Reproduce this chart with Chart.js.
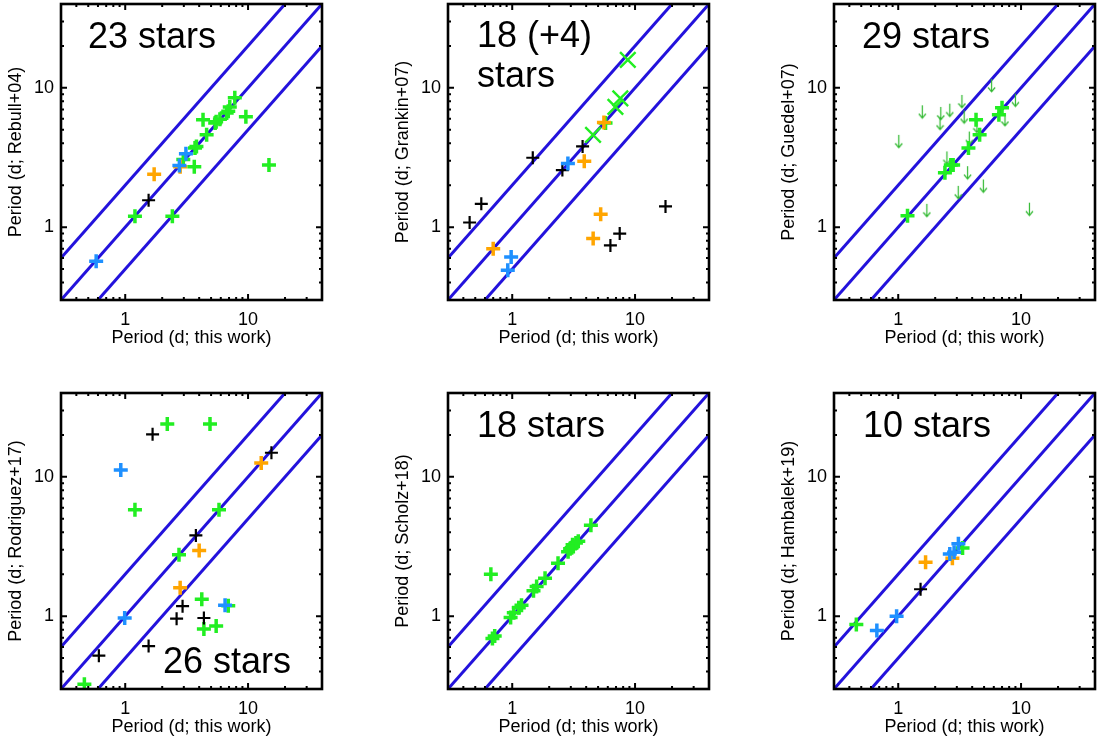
<!DOCTYPE html>
<html>
<head>
<meta charset="utf-8">
<script src="https://cdn.jsdelivr.net/npm/chart.js@4/dist/chart.umd.min.js"></script>
<style>
html,body{margin:0;padding:0;background:#fff;width:1097px;height:745px;overflow:hidden;}
canvas{position:absolute;}
</style>
</head>
<body>
<canvas id="c1" width="325" height="350" style="left:0px;top:0px"></canvas>
<canvas id="c2" width="325" height="350" style="left:387px;top:0px"></canvas>
<canvas id="c3" width="325" height="350" style="left:773px;top:0px"></canvas>
<canvas id="c4" width="325" height="350" style="left:0px;top:389px"></canvas>
<canvas id="c5" width="325" height="350" style="left:387px;top:389px"></canvas>
<canvas id="c6" width="325" height="350" style="left:773px;top:389px"></canvas>
<script>
// ---------- axes ----------
const axisRange = [0.3, 40];
const labelTicks = [1, 10];
const minorTicks = [0.4, 0.5, 0.6, 0.7, 0.8, 0.9, 2, 3, 4, 5, 6, 7, 8, 9, 20, 30];
const ratioLines = [0.5, 1, 2];
const xTitle = 'Period (d; this work)';

// ---------- data: [period this work, period literature] ----------
// Rebull+04
const rebull_green = [[1.2,1.2],[2.42,1.2],[2.97,3.06],[3.65,2.72],[3.7,3.7],[3.8,3.8],[4.3,5.9],[4.6,4.6],[5.4,5.6],[5.5,5.7],[5.9,5.95],[6.7,6.6],[6.9,6.8],[7.1,7.3],[7.8,8.5],[9.6,6.2],[14.8,2.8]];
const rebull_blue = [[0.58,0.57],[2.76,2.77],[3.12,3.37]];
const rebull_orange = [[1.72,2.4],[2.8,2.72]];
const rebull_black = [[1.55,1.56]];
// Grankin+07
const grankin_black = [[0.45,1.08],[0.56,1.47],[1.47,3.15],[2.56,2.57],[3.74,3.8],[6.3,0.74],[7.5,0.9],[17.7,1.41]];
const grankin_orange = [[0.7,0.7],[3.86,2.97],[5.58,5.63],[5.25,1.24],[4.56,0.83]];
const grankin_blue = [[0.98,0.61],[0.92,0.49],[2.84,2.87]];
const grankin_green = [[5.75,5.6]];
const grankin_greenX = [[4.55,4.6],[6.92,7.3],[7.59,8.4],[8.73,15.9]];
// Guedel+07
const guedel_green = [[1.19,1.21],[2.4,2.46],[2.68,2.79],[2.8,2.8],[3.73,3.7],[4.3,5.9],[4.6,4.6],[6.6,6.4],[7.0,7.2]];
const guedel_upper = [[1.01,4.6],[1.57,7.5],[1.71,1.47],[2.19,6.2],[2.22,7.3],[2.49,3.5],[2.63,7.7],[3.08,1.98],[3.3,8.9],[3.44,6.9],[3.67,2.74],[3.79,4.86],[4.37,5.9],[4.93,2.2],[5.76,11.6],[7.4,6.6],[9.0,9.1],[11.7,1.5]];
// Rodriguez+17
const rodriguez_green = [[0.465,0.325],[1.2,5.8],[2.2,24],[4.9,24],[2.74,2.76],[4.2,1.32],[4.37,0.81],[5.5,0.85],[6.9,1.19],[5.8,5.8]];
const rodriguez_black = [[0.61,0.52],[1.55,0.61],[1.67,20.2],[3.76,3.8],[2.93,1.18],[2.62,0.96],[4.37,0.97],[15.5,14.9]];
const rodriguez_blue = [[0.99,0.97],[0.92,11.2],[6.5,1.2]];
const rodriguez_orange = [[2.8,1.6],[4.0,2.96],[12.8,12.6]];
// Scholz+18
const scholz_green = [[0.67,2.0],[0.69,0.69],[0.72,0.72],[0.97,0.98],[1.03,1.06],[1.13,1.15],[1.19,1.2],[1.49,1.52],[1.58,1.63],[1.85,1.87],[2.36,2.4],[2.85,2.9],[2.96,3.05],[3.05,3.1],[3.1,3.25],[3.3,3.35],[3.45,3.45],[4.37,4.5]];
// Hambalek+19
const hambalek_green = [[0.456,0.87],[3.34,3.08]];
const hambalek_blue = [[0.67,0.79],[0.97,1.0],[2.63,2.8],[2.85,2.88],[3.09,3.31]];
const hambalek_orange = [[1.67,2.44],[2.76,2.61]];
const hambalek_black = [[1.52,1.56]];

// ---------- styles ----------
const FONT = "'Liberation Sans', Arial, Helvetica, sans-serif";
const COL = {green:'#22ee22', blue:'#1e90ff', orange:'#ffa500', black:'#000000', arrow:'#2fb82f', line:'#2312dc'};
Chart.defaults.font.family = FONT;

function makeArrow(){
  const c = document.createElement('canvas');
  c.width = 9; c.height = 30;
  const g = c.getContext('2d');
  g.strokeStyle = COL.arrow; g.lineWidth = 1.2;
  g.beginPath(); g.moveTo(4.5,15); g.lineTo(4.5,27.5); g.stroke();
  g.beginPath(); g.moveTo(1,23.5); g.lineTo(4.5,27.8); g.lineTo(8,23.5); g.stroke();
  return c;
}
const arrowImg = makeArrow();

const markerStyles = {
  blue:   {pointStyle:'cross', radius:7, width:3.5, color:COL.blue, order:1},
  orange: {pointStyle:'cross', radius:7, width:3.5, color:COL.orange, order:2},
  black:  {pointStyle:'cross', radius:6.5, width:2.2, color:COL.black, order:3},
  green:  {pointStyle:'cross', radius:7, width:3.5, color:COL.green, order:4},
  greenX: {pointStyle:'crossRot', radius:11, width:2.4, color:COL.green, order:5},
  upper:  {pointStyle:arrowImg, radius:5, width:1, color:COL.arrow, order:6}
};

const panels = [
  {id:'c1', ytitle:'Period (d; Rebull+04)', text:[{t:'23 stars', dx:27, dy:44}],
   sets:{blue:rebull_blue, orange:rebull_orange, black:rebull_black, green:rebull_green}},
  {id:'c2', ytitle:'Period (d; Grankin+07)', text:[{t:'18 (+4)', dx:29, dy:43},{t:'stars', dx:29, dy:83}],
   sets:{blue:grankin_blue, orange:grankin_orange, black:grankin_black, green:grankin_green, greenX:grankin_greenX}},
  {id:'c3', ytitle:'Period (d; Guedel+07)', text:[{t:'29 stars', dx:28, dy:44}],
   sets:{green:guedel_green, upper:guedel_upper}},
  {id:'c4', ytitle:'Period (d; Rodriguez+17)', text:[{t:'26 stars', dx:102, dy:280}],
   sets:{blue:rodriguez_blue, orange:rodriguez_orange, black:rodriguez_black, green:rodriguez_green}},
  {id:'c5', ytitle:'Period (d; Scholz+18)', text:[{t:'18 stars', dx:29, dy:44}],
   sets:{green:scholz_green}},
  {id:'c6', ytitle:'Period (d; Hambalek+19)', text:[{t:'10 stars', dx:29, dy:44}],
   sets:{blue:hambalek_blue, orange:hambalek_orange, black:hambalek_black, green:hambalek_green}}
];

const framePlugin = {
  id:'frame',
  afterDatasetsDraw(chart, args, opts){
    const {ctx, chartArea:a} = chart;
    const xs = chart.scales.x, ys = chart.scales.y;
    ctx.save();
    ctx.strokeStyle = '#000';
    ctx.lineWidth = 2;
    const drawTicks = (vals, len) => {
      ctx.beginPath();
      vals.forEach(v => {
        const px = xs.getPixelForValue(v);
        ctx.moveTo(px, a.bottom); ctx.lineTo(px, a.bottom - len);
        ctx.moveTo(px, a.top); ctx.lineTo(px, a.top + len);
        const py = ys.getPixelForValue(v);
        ctx.moveTo(a.left, py); ctx.lineTo(a.left + len, py);
        ctx.moveTo(a.right, py); ctx.lineTo(a.right - len, py);
      });
      ctx.stroke();
    };
    drawTicks(labelTicks, 6);
    drawTicks(minorTicks, 3);
    ctx.lineWidth = 2.6;
    ctx.strokeRect(a.left, a.top, a.right - a.left, a.bottom - a.top);
    ctx.fillStyle = '#000';
    ctx.font = '36px ' + FONT;
    ctx.textAlign = 'left';
    ctx.textBaseline = 'alphabetic';
    (opts.text || []).forEach(l => ctx.fillText(l.t, a.left + l.dx, a.top + l.dy));
    ctx.restore();
  }
};

function axisOpts(isX, title){
  return {
    type:'logarithmic', min:axisRange[0], max:axisRange[1],
    position: isX ? 'bottom' : 'left',
    afterBuildTicks: s => { s.ticks = labelTicks.map(v => ({value:v})); },
    afterFit: s => {
      if (isX) s.height = 50; else s.width = 61;
      s.paddingTop = 0; s.paddingBottom = 0; s.paddingLeft = 0; s.paddingRight = 0;
    },
    grid:{display:false, drawTicks:false},
    border:{display:false},
    ticks:{
      autoSkip:false, maxRotation:0, color:'#000',
      padding: isX ? 9 : 7,
      font:{family:FONT, size:18},
      callback: v => String(v)
    },
    title:{
      display:true, text:title, color:'#000',
      font:{family:FONT, size:18},
      padding: isX ? {top:0, bottom:1} : {top:5, bottom:0}
    }
  };
}

panels.forEach(p => {
  const datasets = [];
  Object.keys(p.sets).forEach(key => {
    const st = markerStyles[key];
    datasets.push({
      type:'scatter',
      data: p.sets[key].map(([x, y]) => ({x, y})),
      pointStyle: st.pointStyle,
      pointRadius: st.radius,
      pointBorderWidth: st.width,
      pointBorderColor: st.color,
      pointBackgroundColor: st.color,
      borderColor: st.color,
      backgroundColor: st.color,
      showLine:false,
      order: st.order
    });
  });
  ratioLines.forEach(r => {
    datasets.push({
      type:'line',
      data: axisRange.map(x => ({x, y: x * r})),
      borderColor: COL.line,
      borderWidth: 3,
      pointRadius: 0,
      tension: 0,
      fill:false,
      clip: 0,
      order: 10
    });
  });
  new Chart(document.getElementById(p.id), {
    type:'scatter',
    data:{datasets},
    options:{
      responsive:false,
      animation:false,
      events:[],
      layout:{autoPadding:false, padding:{left:0, top:4, right:3, bottom:0}},
      plugins:{
        legend:{display:false},
        tooltip:{enabled:false},
        frame:{text:p.text}
      },
      scales:{
        x: axisOpts(true, xTitle),
        y: axisOpts(false, p.ytitle)
      }
    },
    plugins:[framePlugin]
  });
});
</script>
</body>
</html>
